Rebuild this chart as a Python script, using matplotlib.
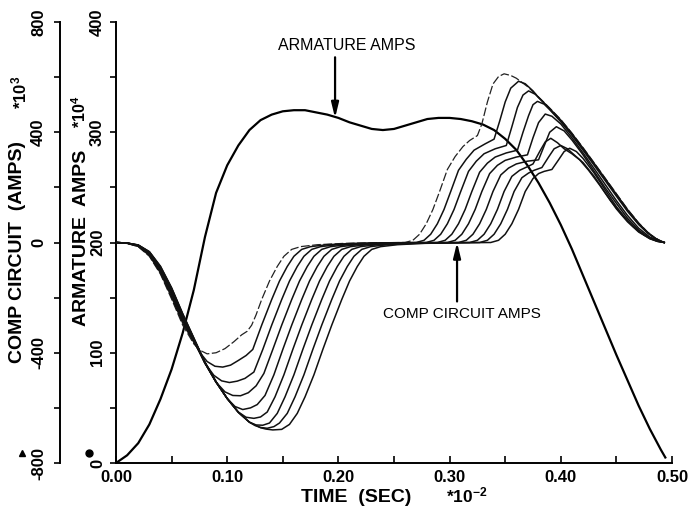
import matplotlib
matplotlib.use('Agg')
import matplotlib.pyplot as plt
from matplotlib.ticker import MultipleLocator
from matplotlib.lines import Line2D

plt.rcParams['font.family'] = ['Liberation Sans', 'DejaVu Sans']
plt.rcParams['mathtext.fontset'] = 'custom'
plt.rcParams['mathtext.rm'] = 'Liberation Sans:bold'
plt.rcParams['mathtext.it'] = 'Liberation Sans:bold'
plt.rcParams['mathtext.bf'] = 'Liberation Sans:bold'

# ---------------- data ----------------
time_ticks = [0.00, 0.10, 0.20, 0.30, 0.40, 0.50]
arm_ticks = [0, 100, 200, 300, 400]
comp_ticks = [-800, -400, 0, 400, 800]

# armature amps (*10^4) vs time (sec *10^-2)
armature_time = [0, 0.01, 0.02, 0.03, 0.04, 0.05, 0.06, 0.07, 0.08, 0.09, 0.10, 0.11, 0.12, 0.13,
                 0.14, 0.15, 0.16, 0.17, 0.18, 0.19, 0.20, 0.21, 0.22, 0.23, 0.24, 0.25, 0.26, 0.27,
                 0.28, 0.29, 0.30, 0.31, 0.32, 0.33, 0.34, 0.35, 0.36, 0.37, 0.38, 0.39, 0.40, 0.41,
                 0.42, 0.43, 0.44, 0.45, 0.46, 0.47, 0.48, 0.49, 0.494]
armature_amps = [0, 7, 18, 35, 58, 85, 118, 157, 205, 245, 270, 288, 302, 311,
                 316, 319, 320, 320, 318, 316, 313, 309, 306, 303, 302, 303, 306, 309,
                 312, 313, 313, 312, 310, 307, 302, 294, 284, 270, 254, 236, 216, 194,
                 170, 146, 122, 98, 75, 52, 31, 12, 5]

# comp circuit amps (*10^3): (time, amps) pairs for each of the nine runs
comp_curve_0 = [(0, 0), (.01, -3), (.02, -15), (.03, -50), (.04, -115), (.05, -205), (.06, -300), (.07, -368),
                (.076, -392), (.082, -404), (.09, -400), (.098, -385), (.106, -360), (.113, -335), (.118, -322),
                (.122, -300), (.126, -262), (.131, -207), (.138, -140), (.145, -87), (.151, -50), (.158, -25),
                (.166, -15), (.181, -8), (.206, -3), (.235, -1), (.26, 0), (.267, 8), (.273, 30), (.279, 68),
                (.285, 120), (.291, 185), (.298, 265), (.305, 312), (.312, 348), (.318, 370), (.325, 388),
                (.329, 430), (.334, 510), (.339, 575), (.344, 602), (.349, 612), (.355, 606), (.36, 596),
                (.37, 566), (.38, 528), (.39, 488), (.40, 446), (.41, 397), (.42, 344), (.43, 289), (.44, 233),
                (.45, 177), (.46, 121), (.47, 71), (.478, 38), (.485, 16), (.49, 5), (.493, 0)]
comp_curve_1 = [(0, 0), (.01, -3), (.02, -14), (.03, -47), (.04, -110), (.05, -198), (.06, -292), (.07, -362),
                (.076, -402), (.082, -432), (.089, -449), (.096, -452), (.103, -445), (.11, -428), (.117, -410),
                (.123, -388), (.131, -300), (.140, -207), (.147, -140), (.154, -87), (.160, -50), (.167, -25),
                (.175, -15), (.19, -8), (.215, -3), (.245, -1), (.27, 0), (.277, 8), (.283, 30), (.289, 68),
                (.295, 120), (.301, 185), (.308, 262), (.315, 302), (.322, 335), (.332, 358), (.340, 375),
                (.345, 440), (.350, 510), (.355, 560), (.362, 585), (.368, 576), (.375, 550), (.38, 526),
                (.39, 486), (.40, 444), (.41, 395), (.42, 342), (.43, 287), (.44, 231), (.45, 175), (.46, 119),
                (.47, 70), (.478, 37), (.485, 15), (.49, 5), (.493, 0)]
comp_curve_2 = [(0, 0), (.01, -2), (.02, -13), (.03, -44), (.04, -105), (.05, -190), (.06, -284), (.07, -358),
                (.08, -438), (.088, -482), (.095, -502), (.102, -508), (.109, -503), (.116, -493), (.124, -470),
                (.132, -388), (.140, -300), (.149, -207), (.156, -140), (.163, -87), (.169, -50), (.176, -25),
                (.184, -15), (.199, -8), (.224, -3), (.255, -1), (.279, 0), (.286, 8), (.292, 30), (.298, 68),
                (.304, 120), (.310, 185), (.317, 258), (.324, 295), (.331, 322), (.341, 340), (.351, 352),
                (.356, 420), (.361, 490), (.366, 535), (.371, 550), (.377, 538), (.383, 514), (.39, 484),
                (.40, 441), (.41, 392), (.42, 339), (.43, 284), (.44, 228), (.45, 172), (.46, 117), (.47, 68),
                (.478, 36), (.485, 15), (.49, 5), (.493, 0)]
comp_curve_3 = [(0, 0), (.01, -2), (.02, -12), (.03, -41), (.04, -100), (.05, -183), (.06, -277), (.07, -355),
                (.08, -438), (.09, -507), (.098, -542), (.105, -555), (.112, -556), (.119, -545), (.126, -520),
                (.133, -475), (.141, -388), (.149, -300), (.158, -207), (.165, -140), (.172, -87), (.178, -50),
                (.185, -25), (.193, -15), (.208, -8), (.233, -3), (.265, -1), (.289, 0), (.296, 8), (.302, 30),
                (.308, 68), (.314, 120), (.320, 185), (.327, 255), (.334, 288), (.341, 310), (.351, 325),
                (.361, 335), (.366, 400), (.371, 460), (.375, 500), (.379, 512), (.385, 502), (.39, 482),
                (.40, 438), (.41, 389), (.42, 335), (.43, 280), (.44, 224), (.45, 168), (.46, 113), (.47, 65),
                (.478, 34), (.485, 14), (.49, 4), (.493, 0)]
comp_curve_4 = [(0, 0), (.01, -2), (.02, -11), (.03, -38), (.04, -95), (.05, -176), (.06, -270), (.07, -352),
                (.08, -437), (.09, -507), (.10, -566), (.107, -595), (.114, -606), (.121, -600), (.127, -588),
                (.134, -555), (.142, -480), (.150, -388), (.158, -300), (.167, -207), (.174, -140), (.181, -87),
                (.187, -50), (.194, -25), (.202, -15), (.217, -8), (.242, -3), (.275, -1), (.298, 0), (.305, 8),
                (.311, 30), (.317, 68), (.323, 120), (.329, 185), (.336, 250), (.343, 280), (.350, 298),
                (.360, 310), (.370, 318), (.375, 380), (.380, 435), (.386, 466), (.392, 458), (.40, 430),
                (.41, 380), (.42, 325), (.43, 268), (.44, 210), (.45, 152), (.46, 98), (.47, 52), (.48, 20),
                (.487, 7), (.493, 0)]
comp_curve_5 = [(0, 0), (.01, -2), (.02, -10), (.03, -36), (.04, -92), (.05, -172), (.06, -265), (.07, -350),
                (.08, -436), (.09, -506), (.10, -566), (.11, -615), (.117, -634), (.124, -638), (.130, -633),
                (.136, -615), (.143, -560), (.151, -480), (.159, -388), (.167, -300), (.176, -207), (.183, -140),
                (.190, -87), (.196, -50), (.203, -25), (.211, -15), (.226, -8), (.251, -3), (.285, -1), (.308, 0),
                (.315, 8), (.321, 30), (.327, 68), (.333, 120), (.339, 185), (.346, 245), (.353, 270),
                (.360, 285), (.370, 295), (.380, 300), (.385, 350), (.390, 400), (.396, 420), (.403, 405),
                (.41, 372), (.42, 318), (.43, 258), (.44, 198), (.45, 142), (.46, 88), (.47, 45), (.48, 16),
                (.487, 5), (.493, 0)]
comp_curve_6 = [(0, 0), (.01, -2), (.02, -10), (.03, -35), (.04, -90), (.05, -168), (.06, -262), (.07, -350),
                (.08, -436), (.09, -506), (.10, -566), (.11, -616), (.12, -652), (.126, -662), (.132, -663),
                (.138, -655), (.145, -620), (.152, -560), (.160, -480), (.168, -388), (.176, -300), (.185, -207),
                (.192, -140), (.199, -87), (.205, -50), (.212, -25), (.220, -15), (.235, -8), (.26, -3), (.29, -1),
                (.318, 0), (.325, 8), (.331, 30), (.337, 68), (.343, 120), (.349, 185), (.356, 240), (.363, 262),
                (.370, 275), (.375, 285), (.381, 330), (.386, 365), (.391, 378), (.397, 362), (.403, 340),
                (.41, 322), (.417, 300), (.425, 262), (.435, 208), (.445, 150), (.455, 100), (.465, 58),
                (.475, 27), (.485, 8), (.493, 0)]
comp_curve_7 = [(0, 0), (.01, -2), (.02, -9), (.03, -34), (.04, -88), (.05, -166), (.06, -260), (.07, -348),
                (.08, -435), (.09, -506), (.10, -566), (.11, -616), (.12, -652), (.125, -664), (.130, -671),
                (.136, -674), (.142, -668), (.147, -655), (.154, -620), (.161, -560), (.169, -480), (.177, -388),
                (.185, -300), (.194, -207), (.201, -140), (.208, -87), (.214, -50), (.221, -25), (.229, -15),
                (.244, -8), (.27, -3), (.30, -1), (.327, 0), (.334, 8), (.340, 30), (.346, 68), (.352, 120),
                (.358, 185), (.365, 235), (.371, 252), (.376, 262), (.383, 272), (.389, 310), (.394, 340),
                (.40, 352), (.406, 340), (.412, 318), (.42, 290), (.43, 240), (.44, 180), (.45, 122), (.46, 75),
                (.47, 38), (.48, 14), (.487, 4), (.493, 0)]
comp_curve_8 = [(0, 0), (.01, -2), (.02, -9), (.03, -33), (.04, -86), (.05, -164), (.06, -258), (.07, -346),
                (.08, -434), (.09, -505), (.10, -566), (.11, -616), (.12, -652), (.13, -672), (.135, -677),
                (.141, -680), (.149, -678), (.156, -660), (.163, -620), (.170, -560), (.178, -480), (.186, -388),
                (.194, -300), (.203, -207), (.210, -140), (.217, -87), (.223, -50), (.230, -25), (.238, -15),
                (.253, -8), (.278, -3), (.31, -1), (.337, 0), (.344, 8), (.350, 30), (.356, 68), (.362, 120),
                (.368, 185), (.375, 232), (.380, 250), (.385, 258), (.392, 265), (.398, 300), (.403, 330),
                (.408, 342), (.414, 330), (.42, 305), (.43, 252), (.44, 190), (.45, 130), (.46, 80), (.47, 40),
                (.48, 14), (.487, 4), (.493, 0)]
comp_curves = [comp_curve_0, comp_curve_1, comp_curve_2, comp_curve_3, comp_curve_4,
               comp_curve_5, comp_curve_6, comp_curve_7, comp_curve_8]

# ---------------- figure ----------------
W, H = 688, 517
fig = plt.figure(figsize=(W / 100, H / 100), dpi=100)
px0, px1, py0, py1 = 116, 672, 22, 463
ax = fig.add_axes([px0 / W, 1 - py1 / H, (px1 - px0) / W, (py1 - py0) / H])
ax.set_xlim(0, 0.5)
ax.set_ylim(0, 400)
axc = ax.twinx()
axc.set_ylim(-800, 800)

def fx(px):
    return px / W

def fy(py):
    return 1 - py / H

# curves
for i, curve in enumerate(comp_curves):
    ts = [p[0] for p in curve]
    vs = [p[1] for p in curve]
    if i == 0:
        axc.plot(ts, vs, color='#222222', lw=0.9, ls=(0, (7, 2)), solid_capstyle='round')
    else:
        axc.plot(ts, vs, color='#111111', lw=1.1, solid_joinstyle='round')
ax.plot(armature_time, armature_amps, color='black', lw=1.6, solid_joinstyle='round')

# spines
ax.spines['top'].set_visible(False)
ax.spines['right'].set_visible(False)
for s in ['top', 'right', 'bottom']:
    axc.spines[s].set_visible(False)
axc.spines['left'].set_visible(True)
axc.spines['left'].set_position(('axes', (60 - px0) / (px1 - px0)))
for sp in [ax.spines['left'], ax.spines['bottom'], axc.spines['left']]:
    sp.set_linewidth(1.4)
axc.yaxis.set_ticks_position('left')
axc.yaxis.set_label_position('left')

# ticks
ax.set_xticks(time_ticks, labels=[f'{t:.2f}' for t in time_ticks])
ax.xaxis.set_minor_locator(MultipleLocator(0.05))
ax.tick_params(axis='x', which='both', direction='in', length=5, width=1.2, pad=5, labelsize=12)
ax.set_yticks(arm_ticks, labels=[str(v) for v in arm_ticks])
ax.yaxis.set_minor_locator(MultipleLocator(50))
ax.tick_params(axis='y', which='both', direction='out', length=4, width=1.2, pad=4, labelsize=12)
axc.set_yticks(comp_ticks, labels=[str(v) for v in comp_ticks])
axc.yaxis.set_minor_locator(MultipleLocator(200))
axc.tick_params(axis='y', which='both', direction='out', length=4, width=1.2, pad=6, labelsize=12,
                left=True, right=False, labelleft=True, labelright=False)
for lbl in ax.get_xticklabels():
    lbl.set_fontweight('bold')
for lbl in list(ax.get_yticklabels()) + list(axc.get_yticklabels()):
    lbl.set_fontweight('bold')
    lbl.set_rotation(90)
    lbl.set_va('center')
    lbl.set_ha('right')

# axis titles
fig.text(fx(18), fy(252), 'COMP CIRCUIT  (AMPS)', rotation=90, ha='center', va='center',
         fontsize=14, fontweight='bold')
fig.text(fx(19), fy(92), r'*10$^{3}$', rotation=90, ha='center', va='center', fontsize=12, fontweight='bold')
fig.text(fx(81), fy(238), 'ARMATURE  AMPS', rotation=90, ha='center', va='center',
         fontsize=14, fontweight='bold')
fig.text(fx(80), fy(112), r'*10$^{4}$', rotation=90, ha='center', va='center', fontsize=11.5, fontweight='bold')
fig.text(fx(356), fy(497), 'TIME  (SEC)', ha='center', va='center', fontsize=14, fontweight='bold')
fig.text(fx(467), fy(495), r'*10$^{-2}$', ha='center', va='center', fontsize=12.5, fontweight='bold')

# small series symbols
fig.add_artist(Line2D([fx(22)], [fy(453)], marker='^', color='black', markersize=5, ls='none'))
fig.add_artist(Line2D([fx(89)], [fy(453)], marker='o', color='black', markersize=5, ls='none'))

# annotations
arrow_kw = dict(arrowstyle='-|>,head_length=0.9,head_width=0.22', color='black', lw=1.6, shrinkA=0, shrinkB=0)
ax.annotate('', xy=(0.197, 313), xytext=(0.197, 368), arrowprops=arrow_kw)
ax.text(0.2077, 379, 'ARMATURE AMPS', ha='center', va='center', fontsize=11.5)
axc.annotate('', xy=(0.3067, 0), xytext=(0.3067, -214), arrowprops=arrow_kw)
axc.text(0.311, -258, 'COMP CIRCUIT AMPS', ha='center', va='center', fontsize=11)

fig.savefig('out.png', dpi=100)
